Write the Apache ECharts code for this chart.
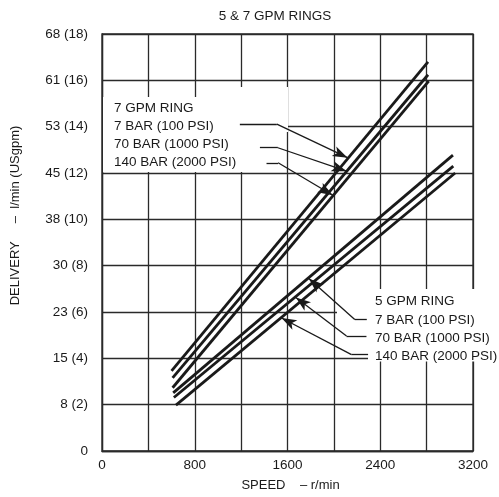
<!DOCTYPE html>
<html>
<head>
<meta charset="utf-8">
<script src="https://cdn.jsdelivr.net/npm/echarts@6/dist/echarts.min.js"></script>
<style>
  html, body { margin: 0; padding: 0; background: #fff; }
  #chart { width: 499px; height: 497px; }
</style>
</head>
<body>
<div id="chart"></div>
<script>
// ---- Data (speed r/min, delivery USgpm) ----
const titleText = '5 & 7 GPM RINGS';
const xTickLabels = ['0', '', '800', '', '1600', '', '2400', '', '3200'];
const yTickLabels = ['0', '8 (2)', '15 (4)', '23 (6)', '30 (8)', '38 (10)', '45 (12)', '53 (14)', '61 (16)', '68 (18)'];

const gpm7_7bar   = [[600, 3.46], [2812, 16.80]];
const gpm7_70bar  = [[609, 3.16], [2812, 16.24]];
const gpm7_140bar = [[609, 2.73], [2818, 15.97]];
const gpm5_7bar   = [[614, 2.51], [3027, 12.77]];
const gpm5_70bar  = [[620, 2.31], [3030, 12.30]];
const gpm5_140bar = [[638, 1.98], [3046, 12.00]];

const label7 = ['7 GPM RING', '7 BAR (100 PSI)', '70 BAR (1000 PSI)', '140 BAR (2000 PSI)'];
const label5 = ['5 GPM RING', '7 BAR (100 PSI)', '70 BAR (1000 PSI)', '140 BAR (2000 PSI)'];

// leader lines: [start of horizontal, elbow, arrow tip] in data coords
const leaders = [
  [[1189, 14.11], [1508, 14.11], [2118, 12.66]],
  [[1362, 13.09], [1517, 13.09], [2109, 12.08]],
  [[1419, 12.44], [1519, 12.44], [1991, 11.04]],
  [[2284, 5.675], [2180, 5.675], [1784, 7.45]],
  [[2281, 4.96],  [2109, 4.96],  [1672, 6.63]],
  [[2295, 4.157], [2152, 4.157], [1549, 5.74]]
];

const ink = '#1a1a1a';
const gridInk = '#2a2a2a';
const font = '"Liberation Sans", Arial, sans-serif';

const allLines = [gpm7_7bar, gpm7_70bar, gpm7_140bar, gpm5_7bar, gpm5_70bar, gpm5_140bar];

const markData = [];
leaders.forEach(l => {
  markData.push([{ coord: l[0], symbol: 'none' }, { coord: l[1], symbol: 'none' }]);
  markData.push([{ coord: l[1], symbol: 'none' }, { coord: l[2], symbol: 'arrow', symbolSize: [8, 15] }]);
});

const series = allLines.map(d => ({
  type: 'line',
  data: d,
  symbol: 'none',
  silent: true,
  lineStyle: { color: ink, width: 2.8 },
  z: 3
}));
series.push({
  type: 'line',
  data: [],
  silent: true,
  z: 4,
  markLine: {
    silent: true,
    animation: false,
    symbol: ['none', 'none'],
    label: { show: false },
    lineStyle: { color: ink, width: 1.3, type: 'solid' },
    emphasis: { disabled: true },
    data: markData
  }
});

const chart = echarts.init(document.getElementById('chart'), null, { renderer: 'canvas' });
chart.setOption({
  animation: false,
  backgroundColor: '#fff',
  grid: { left: 102, right: 26, top: 34, bottom: 44, show: true, borderColor: gridInk, borderWidth: 1.3, backgroundColor: 'transparent' },
  xAxis: {
    type: 'value', min: 0, max: 3200, interval: 400,
    name: 'SPEED    – r/min', nameLocation: 'middle', nameGap: 28,
    nameTextStyle: { fontFamily: font, fontSize: 13, color: ink, padding: [0, 0, 0, 6] },
    axisLine: { show: true, lineStyle: { color: gridInk, width: 1.3 } },
    axisTick: { show: false },
    splitLine: { show: true, lineStyle: { color: gridInk, width: 1.3 } },
    axisLabel: {
      fontFamily: font, fontSize: 13.5, color: ink, margin: 7,
      formatter: v => xTickLabels[Math.round(v / 400)]
    }
  },
  yAxis: {
    type: 'value', min: 0, max: 18, interval: 2,
    name: 'DELIVERY     –  l/min (USgpm)', nameLocation: 'middle', nameGap: 80,
    nameTextStyle: { fontFamily: font, fontSize: 13, color: ink, padding: [0, 0, 0, 54] },
    axisLine: { show: true, lineStyle: { color: gridInk, width: 1.3 } },
    axisTick: { show: false },
    splitLine: { show: true, lineStyle: { color: gridInk, width: 1.3 } },
    axisLabel: {
      fontFamily: font, fontSize: 13.5, color: ink, margin: 14,
      formatter: v => yTickLabels[Math.round(v / 2)]
    }
  },
  series: series,
  graphic: [
    { type: 'rect', z: 1, shape: { x: 103, y: 97, width: 142, height: 75 }, style: { fill: '#fff' } },
    { type: 'rect', z: 1, shape: { x: 230, y: 87, width: 58, height: 45 }, style: { fill: '#fff' } },
    { type: 'rect', z: 1, shape: { x: 337, y: 289, width: 162, height: 29 }, style: { fill: '#fff' } },
    { type: 'rect', z: 1, shape: { x: 368, y: 318, width: 131, height: 43.5 }, style: { fill: '#fff' } },
    { type: 'text', z: 10, x: 275, y: 16,
      style: { text: titleText, font: '13.5px ' + font, fill: ink, align: 'center', verticalAlign: 'middle' } },
    { type: 'text', z: 10, x: 114, y: 99.3,
      style: { text: label7.join('\n'), font: '13.5px ' + font, fill: ink, lineHeight: 18, align: 'left', verticalAlign: 'top' } },
    { type: 'text', z: 10, x: 375, y: 292.5,
      style: { text: label5.join('\n'), font: '13.5px ' + font, fill: ink, lineHeight: 18.3, align: 'left', verticalAlign: 'top' } }
  ]
});
</script>
</body>
</html>
